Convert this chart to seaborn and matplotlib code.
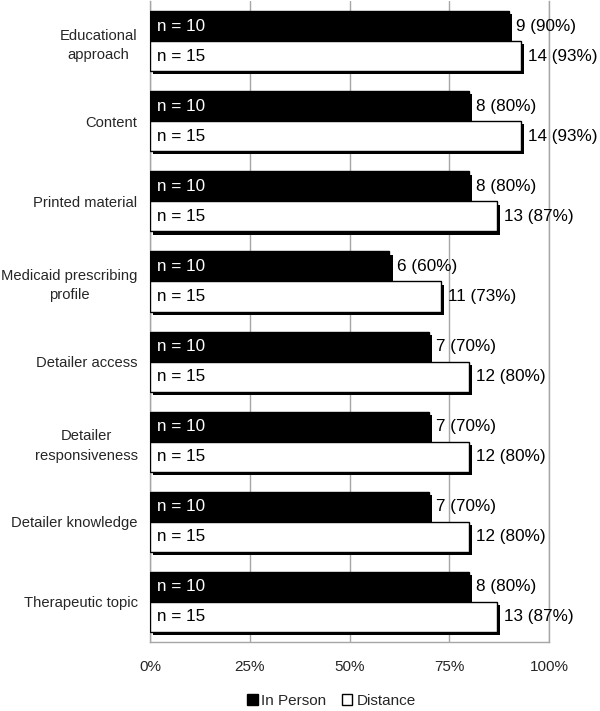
import matplotlib
matplotlib.use("Agg")
import matplotlib.pyplot as plt
import matplotlib.patheffects as pe
from matplotlib.patches import Patch
import seaborn as sns
import pandas as pd

categories = ["Educational\napproach", "Content", "Printed material",
              "Medicaid prescribing\nprofile", "Detailer access",
              "Detailer\nresponsiveness", "Detailer knowledge", "Therapeutic topic"]
series = ["In Person", "Distance"]
in_person_n = [9, 8, 8, 6, 7, 7, 7, 8]
distance_n = [14, 14, 13, 11, 12, 12, 12, 13]
in_person_pct = [90, 80, 80, 60, 70, 70, 70, 80]
distance_pct = [93, 93, 87, 73, 80, 80, 80, 87]
group_sizes = [10, 15]
x_ticks = [0, 25, 50, 75, 100]
x_tick_labels = ["0%", "25%", "50%", "75%", "100%"]

rows = []
for i, c in enumerate(categories):
    rows.append({"category": c, "mode": series[0], "pct": in_person_pct[i], "count": in_person_n[i]})
    rows.append({"category": c, "mode": series[1], "pct": distance_pct[i], "count": distance_n[i]})
df = pd.DataFrame(rows)

sns.set_style("white")
plt.rcParams["font.family"] = ["Liberation Sans", "DejaVu Sans"]

fig = plt.figure(figsize=(6, 7.11), dpi=100)
ax = fig.add_axes([0.25, 0.097, 0.665, 0.9015])

sns.barplot(data=df, y="category", x="pct", hue="mode", orient="h",
            palette=["black", "white"], edgecolor="black", linewidth=1.0,
            width=0.75, order=categories, hue_order=series, ax=ax, legend=False,
            zorder=3)

shadow = [pe.SimplePatchShadow(offset=(2.3, -2.3), shadow_rgbFace="black", alpha=1.0), pe.Normal()]
for p in ax.patches:
    p.set_path_effects(shadow)

# labels
for container, counts, n, txtcol in zip(ax.containers, [in_person_n, distance_n], group_sizes, ["white", "black"]):
    for bar, cnt in zip(container, counts):
        y = bar.get_y() + bar.get_height() / 2
        w = bar.get_width()
        ax.text(1.7, y, f"n = {n}", color=txtcol, va="center", ha="left", fontsize=12.3, zorder=5)
        ax.text(w + 1.8, y, f"{cnt} ({round(w)}%)", color="black", va="center", ha="left",
                fontsize=12.3, zorder=5)

ax.set_xlim(0, 100)
ax.set_ylim(len(categories) - 0.5, -0.5)
ax.set_xticks(x_ticks)
ax.set_xticklabels(x_tick_labels, fontsize=11)
ax.tick_params(axis="x", length=0, pad=13)
ax.tick_params(axis="y", length=0, pad=9, labelsize=10.6)
for lbl in ax.get_yticklabels():
    lbl.set_multialignment("center")
    lbl.set_linespacing(1.5)
ax.set_xlabel("")
ax.set_ylabel("")
ax.xaxis.grid(True, color="#a6a6a6", linewidth=1.0, zorder=0)
ax.set_axisbelow(True)
for s in ["left", "bottom", "right", "top"]:
    ax.spines[s].set_visible(True)
    ax.spines[s].set_color("#a6a6a6")
    ax.spines[s].set_linewidth(1.0)
ax.spines["top"].set_visible(False)

handles = [Patch(facecolor="black", edgecolor="black", label=series[0]),
           Patch(facecolor="white", edgecolor="black", label=series[1])]
fig.legend(handles=handles, loc="center", bbox_to_anchor=(0.552, 0.014), ncol=2,
           frameon=False, fontsize=11, handlelength=0.7, handleheight=0.7,
           handletextpad=0.25, columnspacing=1.0)

fig.savefig("out.png", dpi=100)
